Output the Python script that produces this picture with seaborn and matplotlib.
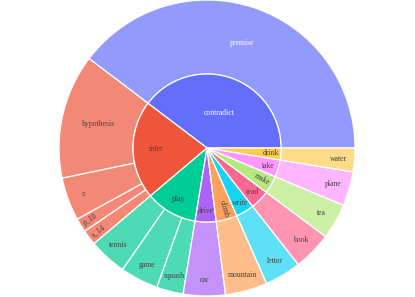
import numpy as np
import matplotlib
matplotlib.use('Agg')
import matplotlib.pyplot as plt
import matplotlib.colors as mcolors
import seaborn as sns

sns.set_theme(style='white')
plt.rcParams['font.family'] = ['Liberation Serif', 'DejaVu Serif']

# sunburst data: inner ring = verbs, outer ring = their objects
parents = ['contradict', 'infer', 'play', 'drive', 'climb', 'write', 'read', 'make', 'take', 'drink']
parent_colors = ['#636EFA', '#EF553B', '#00CC96', '#AB63FA', '#FFA15A',
                 '#19D3F3', '#FF6692', '#B6E880', '#FF97FF', '#FECB52']
leaf_labels = ['premise', 'hypothesis', 'z', 'p_10', 'x_14', 'tennis', 'game', 'squash',
               'car', 'mountain', 'letter', 'book', 'tea', 'plane', 'water']
leaf_parents = ['contradict', 'infer', 'infer', 'infer', 'infer', 'play', 'play', 'play',
                'drive', 'climb', 'write', 'read', 'make', 'take', 'drink']
leaf_values = [143, 49, 17, 5.5, 6, 15, 15, 10.5, 16.5, 16.6, 14.3, 15.2, 14, 13.5, 9.3]

parent_values = [sum(v for v, p in zip(leaf_values, leaf_parents) if p == name) for name in parents]

# labels drawn along the radius like plotly's auto orientation
radial_labels = ['climb', 'make', 'p_10', 'x_14']
white_text = ['contradict', 'premise']


def lighten(c, alpha=0.7):
    rgb = np.array(mcolors.to_rgb(c))
    return tuple(alpha * rgb + (1 - alpha))


color_of = dict(zip(parents, parent_colors))
leaf_colors = [lighten(color_of[p]) for p in leaf_parents]

R = 148.0
fig = plt.figure(figsize=(4.15, 2.97), dpi=100)
ax = fig.add_axes([0, 0, 1, 1])

ax.pie(leaf_values, radius=R, startangle=0, counterclock=True, colors=leaf_colors,
       wedgeprops=dict(width=R / 2, edgecolor='white', linewidth=0.9))
ax.pie(parent_values, radius=R / 2, startangle=0, counterclock=True, colors=parent_colors,
       wedgeprops=dict(edgecolor='white', linewidth=0.9))


def put_labels(labels, values, inner):
    total = float(sum(values))
    start = 0.0
    for lab, v in zip(labels, values):
        span = 360.0 * v / total
        mid = start + span / 2
        start += span
        if inner:
            r = R / 2 * np.clip(0.9 - 0.0028 * span, 0.5, 0.88)
        elif span > 40:
            r = R * 0.75
        elif lab in radial_labels:
            r = R * 0.925
        else:
            r = R * 0.89
        rot = 0
        if lab in radial_labels:
            rot = mid % 360
            if 90 < rot < 270:
                rot -= 180
            elif rot >= 270:
                rot -= 360
        x = r * np.cos(np.radians(mid))
        y = r * np.sin(np.radians(mid))
        ax.text(x, y, lab, ha='center', va='center', rotation=rot, fontsize=5.6,
                color='white' if lab in white_text else '#444444')


put_labels(parents, parent_values, True)
put_labels(leaf_labels, leaf_values, False)

ax.set_aspect('equal')
ax.set_xlim(-207, 208)
ax.set_ylim(-149, 148)
ax.axis('off')

fig.savefig('out.png', dpi=100, facecolor='white')
